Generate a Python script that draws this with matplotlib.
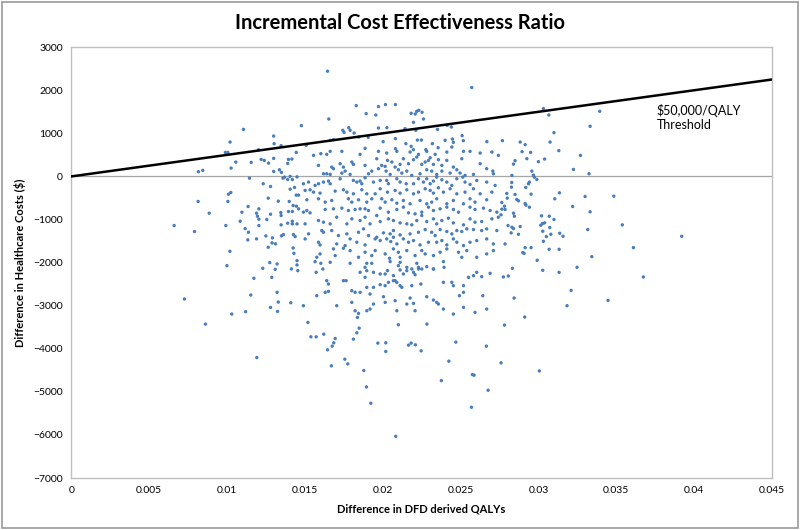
import numpy as np
import matplotlib.pyplot as plt

# (QALY difference, cost difference), grouped by area
left_upper = [
    (0.01106, 1093), (0.0102, 798), (0.0099, 558), (0.01006, 558), (0.0130, 937),
    (0.01303, 760), (0.01348, 714), (0.01057, 333), (0.01027, 194), (0.00817, 109),
    (0.00845, 140), (0.01156, 326), (0.01203, 620), (0.0122, 395), (0.0124, 372),
    (0.01267, 310), (0.0130, 419), (0.01395, 395), (0.01417, 403), (0.0139, 302),
    (0.01445, 558), (0.01145, -40), (0.0130, 116), (0.01337, 155), (0.0135, 93),
    (0.0136, -40), (0.0137, -16), (0.01406, 0), (0.0139, -70), (0.0142, -72),
    (0.0145, -10), (0.01233, -170), (0.0128, -233), (0.01025, -372), (0.0101, -412),
    (0.00815, -581), (0.01006, -581), (0.01265, -504), (0.0133, -574), (0.01406, -295),
    (0.01434, -256), (0.01445, -434), (0.0146, -434), (0.0140, -581), (0.01425, -675),
    (0.01446, -690), (0.0146, -752), (0.01136, -698), (0.01096, -830), (0.00886, -853),
    (0.01205, -752), (0.0119, -853), (0.01196, -923), (0.01205, -993), (0.0128, -877),
    (0.01346, -837), (0.01348, -907), (0.01395, -814), (0.0142, -814), (0.01256, -1000),
]

left_lower = [
    (0.00661, -1140), (0.00792, -1279), (0.00993, -1140), (0.01205, -1140), (0.01085, -1040),
    (0.01117, -1210), (0.01138, -1295), (0.01134, -1472), (0.0119, -1449), (0.0125, -1380),
    (0.01292, -1426), (0.0129, -1542), (0.01312, -1565), (0.01265, -1644), (0.01348, -1124),
    (0.0139, -1086), (0.0142, -1101), (0.0145, -1101), (0.0142, -1040), (0.0135, -1380),
    (0.01363, -1349), (0.01427, -1349), (0.01438, -1396), (0.01425, -1660), (0.0143, -1784),
    (0.0145, -1954), (0.0145, -2054), (0.01455, -2186), (0.01019, -1738), (0.0100, -2070),
    (0.01275, -2000), (0.01322, -2031), (0.0123, -2132), (0.0131, -2156), (0.01414, -2147),
    (0.01173, -2365), (0.01288, -2342), (0.01322, -2691), (0.01153, -2752), (0.00727, -2845),
    (0.0133, -2915), (0.0141, -2931), (0.0128, -3040), (0.01325, -3133), (0.0112, -3140),
    (0.01031, -3194), (0.00862, -3427),
]

right_upper = [
    (0.03032, 1575), (0.03067, 1426), (0.03394, 1512), (0.03332, 1163), (0.0310, 1016),
    (0.03075, 798), (0.03131, 598), (0.0327, 488), (0.02769, 830), (0.02883, 798),
    (0.02915, 737), (0.02895, 575), (0.0295, 558), (0.02926, 412), (0.0285, 365),
    (0.0284, 286), (0.0304, 403), (0.0300, 342), (0.03225, 163), (0.03325, 63),
    (0.02958, 124), (0.02968, 30), (0.02974, -16), (0.0299, -70), (0.02942, -132),
    (0.02936, -170), (0.02829, -140), (0.02919, -256), (0.02797, -395), (0.0285, -419),
    (0.02861, -535), (0.02872, -566), (0.02915, -628), (0.0292, -667), (0.02942, -714),
    (0.02953, -412), (0.03135, -380), (0.03105, -519), (0.0330, -465), (0.03484, -458),
    (0.0322, -698), (0.03332, -821), (0.0302, -914), (0.0307, -923), (0.0310, -1000),
    (0.0284, -853), (0.02846, -923), (0.02765, -605), (0.02782, -690), (0.02765, -760),
    (0.02786, -767), (0.0276, -891), (0.0280, -504), (0.0283, 23), (0.02827, -248),
    (0.02786, -1566),
]

right_lower = [
    (0.02805, -1140), (0.0283, -1179), (0.0284, -1210), (0.02883, -1163), (0.02825, -1310),
    (0.02872, -1342), (0.03015, -1133), (0.03026, -1093), (0.0304, -1077), (0.03073, -1186),
    (0.03028, -1272), (0.0308, -1342), (0.03051, -1396), (0.03137, -1319), (0.03158, -1389),
    (0.03032, -1505), (0.03317, -1233), (0.03539, -1124), (0.0392, -1389), (0.02915, -1652),
    (0.02953, -1652), (0.0290, -1768), (0.02908, -1784), (0.03069, -1691), (0.03133, -1691),
    (0.0361, -1652), (0.03343, -1861), (0.02992, -1947), (0.02833, -2132), (0.03028, -2179),
    (0.03133, -2226), (0.03248, -2109), (0.02775, -2333), (0.02807, -2310), (0.03674, -2333),
    (0.0321, -2645), (0.02844, -2822), (0.03447, -2877), (0.03184, -3000), (0.02912, -3264),
    (0.02782, -3450),
]

bottom_tail = [
    (0.01192, -4203), (0.01539, -3722), (0.01573, -3722), (0.01622, -3660), (0.01695, -3761),
    (0.01686, -3861), (0.01676, -3938), (0.01646, -4024), (0.01834, -3629), (0.01812, -3776),
    (0.01671, -4396), (0.01757, -4241), (0.01776, -4350), (0.01879, -4505), (0.01896, -4885),
    (0.01924, -5264), (0.01969, -3868), (0.0202, -3861), (0.0202, -4063), (0.02084, -6031),
    (0.02166, -3915), (0.02183, -3868), (0.0221, -3908), (0.02247, -4047), (0.0247, -3845),
    (0.02425, -4287), (0.02377, -4738), (0.02666, -3938), (0.0276, -4326), (0.02576, -4598),
    (0.02587, -4613), (0.02677, -4962), (0.0257, -5357), (0.03006, -4513),
    (0.0152, -3389), (0.01849, -3520), (0.02101, -3442), (0.02284, -3427), (0.01838, -3272),
]

centre_top = [
    (0.01646, 2442), (0.02572, 2063), (0.0183, 1644), (0.01654, 1333), (0.01894, 1458),
    (0.01956, 1426), (0.01973, 1621), (0.02018, 1668), (0.02082, 1668), (0.02183, 1465),
    (0.02209, 1449), (0.02198, 1256), (0.02219, 1512), (0.02232, 1535), (0.02253, 1489),
    (0.02262, 1333), (0.01478, 1179), (0.01744, 1070), (0.01752, 1023), (0.01782, 1132),
    (0.01791, 1070), (0.01817, 1007), (0.01973, 1124), (0.02027, 1132), (0.02144, 1109),
    (0.02213, 1070), (0.02352, 1093), (0.02414, 1186), (0.02441, 1147), (0.01684, 854),
    (0.01663, 837), (0.01509, 721), (0.01847, 914), (0.01907, 907), (0.02003, 807),
    (0.02082, 877), (0.02149, 760), (0.02223, 844), (0.02249, 844), (0.02319, 760),
    (0.02356, 667), (0.02401, 837), (0.02448, 868), (0.02454, 791), (0.0251, 947),
    (0.02518, 830), (0.02669, 807), (0.02183, 698), (0.02444, 682), (0.01887, 651),
    (0.02082, 644), (0.02277, 621), (0.02197, 621),
]

centre_zero = [
    (0.01556, 489), (0.01603, 528), (0.01641, 512), (0.01663, 582), (0.01738, 582),
    (0.01855, 512), (0.01973, 582), (0.02026, 543), (0.02091, 582), (0.02176, 566),
    (0.0223, 512), (0.02283, 582), (0.02337, 512), (0.02412, 566), (0.02519, 582),
    (0.02561, 582), (0.02626, 543), (0.02701, 566), (0.02743, 489),
    (0.01588, 256), (0.01673, 217), (0.01684, 179), (0.01727, 295), (0.01748, 217),
    (0.01802, 334), (0.01812, 280), (0.01887, 256), (0.01962, 411), (0.01994, 256),
    (0.02016, 233), (0.02031, 372), (0.02059, 334), (0.0208, 217), (0.02112, 280),
    (0.02133, 411), (0.02166, 295), (0.02198, 388), (0.02219, 450), (0.02251, 280),
    (0.02273, 334), (0.02294, 372), (0.02305, 434), (0.02326, 280), (0.02358, 388),
    (0.0238, 256), (0.02412, 372), (0.02454, 217), (0.02508, 411), (0.02626, 295),
    (0.02668, 179), (0.02707, 124),
    (0.0162, 62), (0.01641, 62), (0.01663, 47), (0.01738, 78), (0.01759, 124),
    (0.01791, 47), (0.01909, 62), (0.0193, 124), (0.01973, 179), (0.02022, 124),
    (0.02048, 47), (0.02101, 155), (0.02123, 78), (0.02155, 124), (0.02187, 24),
    (0.0224, 62), (0.02283, 155), (0.02315, 124), (0.02347, 47), (0.0238, 124),
    (0.02433, 78), (0.02476, 155), (0.02497, 78), (0.02529, 24), (0.02583, 47),
    (0.02711, 62),
    (0.01491, -170), (0.01524, -131), (0.01566, -209), (0.01588, -170), (0.0162, -131),
    (0.01652, -108), (0.01663, -170), (0.01727, -54), (0.01812, -93), (0.01834, -131),
    (0.01855, -108), (0.01866, -170), (0.01887, -31), (0.01941, -131), (0.01984, -93),
    (0.02026, -93), (0.02037, -170), (0.02091, -54), (0.02112, -131), (0.02151, -170),
    (0.02198, -170), (0.0223, -54), (0.02262, -131), (0.02283, -54), (0.02305, -170),
    (0.02326, -108), (0.02347, -15), (0.0238, -77), (0.02412, -131), (0.02444, -209),
    (0.02476, -54), (0.02514, -15), (0.02529, -131), (0.02561, -186), (0.02604, -93),
    (0.02668, -131), (0.02722, -209),
    (0.01502, -325), (0.01534, -310), (0.01556, -364), (0.01598, -387), (0.01695, -341),
    (0.01748, -310), (0.0177, -364), (0.01812, -403), (0.01866, -310), (0.01898, -403),
    (0.01952, -403), (0.01984, -286), (0.02031, -364), (0.0208, -325), (0.02112, -387),
    (0.02155, -310), (0.02198, -403), (0.0223, -364), (0.02273, -286), (0.02305, -325),
    (0.02326, -387), (0.02358, -263), (0.0239, -364), (0.02433, -286), (0.02476, -403),
    (0.02529, -364), (0.02583, -286), (0.02626, -403), (0.02701, -364),
    (0.01513, -542), (0.01588, -519), (0.01631, -596), (0.01673, -558), (0.0178, -519),
    (0.01802, -596), (0.01845, -542), (0.01898, -596), (0.0193, -519), (0.01994, -519),
    (0.02016, -596), (0.02059, -542), (0.02091, -620), (0.02133, -558), (0.02176, -635),
    (0.0224, -558), (0.02283, -635), (0.02315, -596), (0.02347, -519), (0.02412, -635),
    (0.02454, -558), (0.02519, -635), (0.02561, -519), (0.02593, -596), (0.02668, -542),
]

centre_mid = [
    (0.01491, -829), (0.01513, -791), (0.01534, -845), (0.01631, -767), (0.01684, -752),
    (0.01738, -736), (0.0178, -791), (0.01823, -767), (0.01855, -752), (0.01887, -752),
    (0.01909, -791), (0.01984, -736), (0.02037, -829), (0.02091, -767), (0.02133, -713),
    (0.02166, -845), (0.02208, -868), (0.02251, -829), (0.02294, -713), (0.02326, -791),
    (0.02369, -752), (0.02412, -713), (0.02454, -767), (0.02487, -829), (0.02561, -713),
    (0.02593, -767), (0.02647, -736), (0.0269, -791), (0.02733, -829),
    (0.01588, -1023), (0.0162, -1062), (0.01663, -1101), (0.01705, -946), (0.0177, -1101),
    (0.01802, -985), (0.01855, -1023), (0.01887, -946), (0.01919, -1101), (0.01962, -907),
    (0.01984, -1047), (0.02037, -985), (0.02069, -1023), (0.02112, -1078), (0.02155, -1101),
    (0.02187, -1124), (0.02219, -1023), (0.02251, -907), (0.02283, -1047), (0.02326, -985),
    (0.02347, -1101), (0.0238, -1023), (0.02422, -969), (0.02454, -1078), (0.02519, -1124),
    (0.02561, -985), (0.02593, -1062), (0.02636, -1047), (0.02701, -985), (0.02743, -946),
    (0.01502, -1101), (0.01524, -1333), (0.01609, -1256), (0.0162, -1295), (0.01673, -1256),
    (0.01716, -1372), (0.0177, -1333), (0.01845, -1295), (0.01877, -1217), (0.01909, -1372),
    (0.01962, -1411), (0.02005, -1310), (0.02048, -1333), (0.02069, -1256), (0.02112, -1357),
    (0.02176, -1333), (0.0223, -1295), (0.02273, -1233), (0.02315, -1295), (0.02337, -1372),
    (0.02369, -1233), (0.02412, -1279), (0.02444, -1333), (0.02476, -1256), (0.02508, -1279),
    (0.0254, -1217), (0.02583, -1233), (0.02636, -1256), (0.02668, -1217), (0.02733, -1256),
    (0.01502, -1450), (0.01588, -1527), (0.01598, -1589), (0.01705, -1566), (0.01759, -1605),
    (0.01791, -1450), (0.01834, -1527), (0.01887, -1589), (0.01952, -1450), (0.01984, -1488),
    (0.02026, -1450), (0.02052, -1512), (0.02069, -1411), (0.02091, -1566), (0.02133, -1450),
    (0.02166, -1527), (0.02198, -1488), (0.0224, -1589), (0.02294, -1527), (0.02347, -1527),
    (0.0238, -1488), (0.02412, -1589), (0.02454, -1450), (0.02476, -1527), (0.02519, -1605),
    (0.02561, -1527), (0.02604, -1488), (0.02668, -1450), (0.02711, -1566),
    (0.01577, -1876), (0.01598, -1798), (0.01684, -1682), (0.01695, -1837), (0.01748, -1666),
    (0.01791, -1721), (0.01845, -1876), (0.01887, -1759), (0.0193, -1837), (0.01952, -1721),
    (0.02016, -1798), (0.02044, -1899), (0.02069, -1682), (0.02101, -1759), (0.02112, -1876),
    (0.02155, -1721), (0.02208, -1837), (0.02251, -1721), (0.02273, -1798), (0.02326, -1837),
    (0.02369, -1759), (0.02412, -1682), (0.02487, -1759), (0.02508, -1876), (0.0254, -1721),
    (0.02604, -1876), (0.02668, -1798), (0.02711, -1721),
]

centre_low = [
    (0.01566, -1977), (0.01603, -2016), (0.01663, -1993), (0.01791, -2016), (0.01887, -2109),
    (0.01898, -2016), (0.0193, -2016), (0.02048, -1977), (0.02101, -2070), (0.02112, -1993),
    (0.02155, -2109), (0.02187, -2148), (0.02219, -2016), (0.0223, -2109), (0.02251, -2148),
    (0.02283, -2094), (0.02326, -2148), (0.0239, -1977), (0.02394, -2109),
    (0.01573, -2225), (0.01616, -2148), (0.01748, -2419), (0.01765, -2419), (0.01855, -2225),
    (0.01887, -2342), (0.01898, -2187), (0.01941, -2225), (0.01984, -2264), (0.02016, -2264),
    (0.02031, -2187), (0.02069, -2303), (0.0208, -2419), (0.02112, -2171), (0.02133, -2264),
    (0.02155, -2187), (0.02198, -2225), (0.02208, -2280), (0.0223, -2148), (0.02326, -2148),
    (0.02444, -2458), (0.02454, -2535), (0.02519, -2535), (0.02551, -2342), (0.02583, -2303),
    (0.02604, -2225), (0.02636, -2326), (0.0269, -2249),
    (0.01641, -2419), (0.01652, -2497), (0.01631, -2690), (0.01652, -2667), (0.01577, -2768),
    (0.01802, -2652), (0.01823, -2690), (0.01855, -2690), (0.01898, -2574), (0.01919, -2729),
    (0.01941, -2574), (0.01984, -2512), (0.02016, -2535), (0.02037, -2458), (0.02069, -2419),
    (0.02091, -2458), (0.02112, -2535), (0.02123, -2574), (0.02187, -2535), (0.02245, -2497),
    (0.0239, -2458), (0.02493, -2768), (0.02519, -2690), (0.02643, -2768),
    (0.01491, -3000), (0.01705, -3000), (0.01802, -2923), (0.01823, -3117), (0.01845, -3179),
    (0.01898, -3117), (0.01919, -3078), (0.01941, -2962), (0.02005, -2791), (0.02016, -2923),
    (0.0208, -2884), (0.02091, -3117), (0.02155, -2962), (0.02176, -2822), (0.02198, -2946),
    (0.02208, -3117), (0.02283, -2791), (0.02326, -2869), (0.02347, -2923), (0.02358, -2962),
    (0.0239, -3078), (0.02454, -3194), (0.02519, -3039), (0.02593, -3155), (0.02668, -3078),
]

threshold_x = [0, 0.045]
threshold_y = [0, 2250]

x_ticks = [0, 0.005, 0.01, 0.015, 0.02, 0.025, 0.03, 0.035, 0.04, 0.045]
x_tick_labels = ["0", "0.005", "0.01", "0.015", "0.02", "0.025", "0.03", "0.035", "0.04", "0.045"]
y_ticks = [3000, 2000, 1000, 0, -1000, -2000, -3000, -4000, -5000, -6000, -7000]

groups = [left_upper, left_lower, right_upper, right_lower, bottom_tail,
          centre_top, centre_zero, centre_mid, centre_low]
pts = np.array([p for g in groups for p in g])

plt.rcParams['font.family'] = ['Lato', 'DejaVu Sans']

fig = plt.figure(figsize=(8, 5.3), dpi=100)
ax = fig.add_axes([0.089, 0.098, 0.876, 0.813])

ax.axhline(0, color='#a6a6a6', lw=0.9, zorder=1)
ax.plot(threshold_x, threshold_y, color='black', lw=1.8, zorder=3)
ax.scatter(pts[:, 0], pts[:, 1], s=6, color='#4a7ebb', edgecolors='none', zorder=2)

ax.text(0.0376, 1364, "$50,000/QALY\nThreshold", fontsize=9, ha='left', va='center',
        linespacing=1.25)

ax.set_xlim(0, 0.045)
ax.set_ylim(-7000, 3000)
ax.set_xticks(x_ticks)
ax.set_xticklabels(x_tick_labels)
ax.set_yticks(y_ticks)
ax.tick_params(length=0, labelsize=7.5, pad=6)
for s in ax.spines.values():
    s.set_color('#bfbfbf')
    s.set_linewidth(1)

ax.set_xlabel("Difference in DFD derived QALYs", fontsize=8, fontweight='bold', labelpad=6)
ax.set_ylabel("Difference in Healthcare Costs ($)", fontsize=8, fontweight='bold', labelpad=5)
fig.suptitle("Incremental Cost Effectiveness Ratio", fontsize=14.5, fontweight='bold', y=0.975)

# outer frame like the exported chart area
fig.patches.append(plt.Rectangle((0.002, 0.003), 0.996, 0.994, transform=fig.transFigure,
                                 fill=False, edgecolor='#9a9a9a', lw=1.2))

fig.savefig('out.png', dpi=100)
